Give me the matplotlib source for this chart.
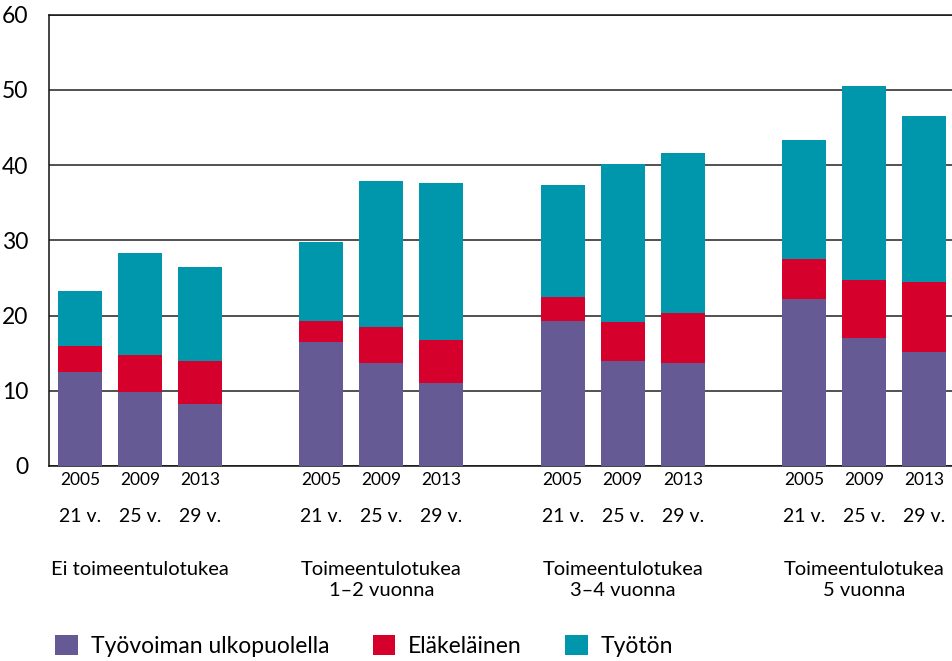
import matplotlib
matplotlib.use("Agg")
import matplotlib.pyplot as plt
from matplotlib.patches import Patch
import numpy as np

plt.rcParams['font.family'] = ['Lato', 'DejaVu Sans']

groups = ["Ei toimeentulotukea", "Toimeentulotukea\n1–2 vuonna",
          "Toimeentulotukea\n3–4 vuonna", "Toimeentulotukea\n5 vuonna"]
years = ["2005", "2009", "2013"]
ages = ["21 v.", "25 v.", "29 v."]
series_names = ["Työvoiman ulkopuolella", "Eläkeläinen", "Työtön"]
colors = ["#655a93", "#d5002b", "#0096ab"]

# segment values (percent), order: group1 (2005, 2009, 2013), group2, ...
tyovoiman_ulkopuolella = [12.5, 9.8, 8.2, 16.5, 13.7, 11.0, 19.3, 13.9, 13.7, 22.2, 17.0, 15.1]
elakelainen = [3.4, 4.9, 5.7, 2.8, 4.8, 5.7, 3.2, 5.2, 6.6, 5.3, 7.7, 9.3]
tyoton = [7.3, 13.6, 12.5, 10.5, 19.4, 20.9, 14.9, 21.1, 21.3, 15.8, 25.8, 22.1]

series = [tyovoiman_ulkopuolella, elakelainen, tyoton]

fig = plt.figure(figsize=(9.53, 6.61), dpi=100)
ax = fig.add_axes([49 / 953, 1 - 466 / 661, 1 - 49 / 953, (466 - 14.7) / 661])

positions = []
for g in range(len(groups)):
    for i in range(len(years)):
        positions.append(g * 4.02 + i)
positions = np.array(positions)

bottom = np.zeros(len(positions))
for vals, col in zip(series, colors):
    v = np.array(vals)
    ax.bar(positions, v, width=0.73, bottom=bottom, color=col, zorder=3, linewidth=0)
    bottom += v

ax.set_ylim(0, 60)
ax.set_xlim(-0.515, positions[-1] + 0.48)
ax.set_yticks(range(0, 61, 10))
ax.yaxis.grid(True, color="#222222", linewidth=1.1, zorder=0)
ax.set_axisbelow(True)
ax.tick_params(axis='y', length=0, pad=15, labelsize=16.5)
ax.set_xticks([])
for s in ["right"]:
    ax.spines[s].set_visible(False)
for s in ["left", "bottom", "top"]:
    ax.spines[s].set_color("#111111")
    ax.spines[s].set_linewidth(1.1)

trans = ax.get_xaxis_transform()
axh = 466 - 14.7


def yfrac(py):
    return (466 - py) / axh


for k, x in enumerate(positions):
    ax.text(x, yfrac(480), years[k % 3], transform=trans, ha="center", va="center",
            fontsize=12.5, clip_on=False)
    ax.text(x, yfrac(517), ages[k % 3], transform=trans, ha="center", va="center",
            fontsize=14, clip_on=False)

for g, name in enumerate(groups):
    xc = positions[g * 3 + 1]
    ax.text(xc, yfrac(561), name, transform=trans, ha="center", va="top",
            fontsize=14.5, linespacing=1.3, clip_on=False)

handles = [Patch(facecolor=c, edgecolor="none") for c in colors]
fig.legend(handles, series_names, loc="center left",
           bbox_to_anchor=(55 / 953, 1 - 646 / 661), ncol=3, frameon=False,
           fontsize=16.5, handlelength=1.0, handleheight=1.0, handletextpad=0.55,
           columnspacing=1.9, borderpad=0, borderaxespad=0)

fig.savefig("out.png", dpi=100)
